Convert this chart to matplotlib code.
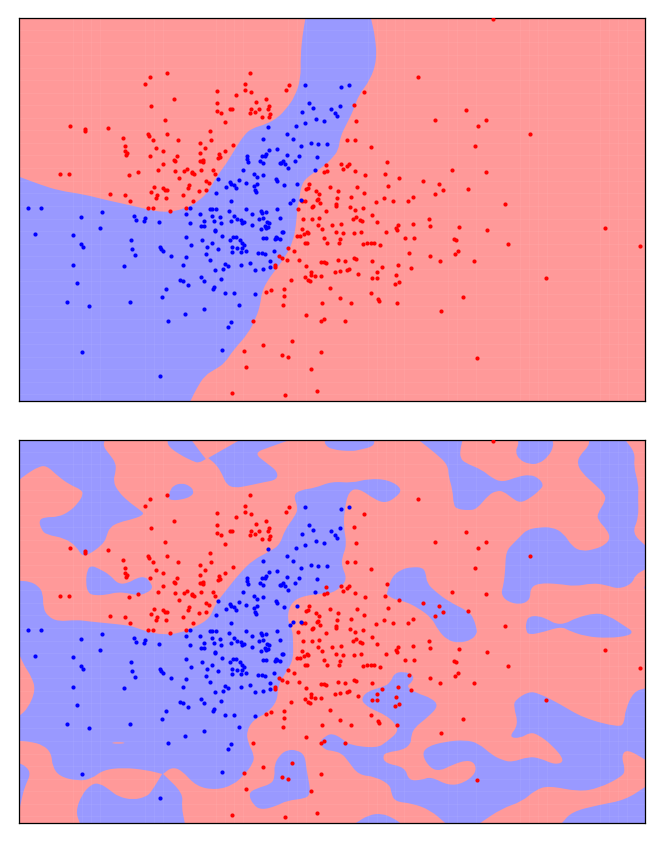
import matplotlib
matplotlib.use('Agg')
import matplotlib.pyplot as plt
from matplotlib.path import Path
from matplotlib.patches import PathPatch

# everything, units are 1/3 pixel of the top panel
red_pts = [(502,218),(451,230),(437,253),(750,218),(736,251),(736,271),(754,275),(651,273),(708,285),(868,256),
 (859,270),(523,297),(653,308),(453,317),(651,332),(664,338),(691,327),(696,327),(770,306),(798,296),(808,317),
 (806,327),(755,326),(750,339),(765,335),(778,326),(810,342),(808,350),(787,351),(495,359),(676,367),(210,378),
 (256,387),(256,392),(325,384),(370,413),(444,403),(448,408),(459,420),(502,403),(534,420),(630,393),(633,419),
 (601,428),(376,438),(468,444),(615,445),(491,452),(375,453),(381,458),(380,465),(451,467),(600,460),(532,468),
 (658,462),(655,473),(662,470),(676,453),(700,434),(522,480),(527,484),(491,491),(600,484),(607,484),(611,479),
 (610,485),(475,509),(525,514),(554,512),(561,507),(578,515),(576,519),(582,521),(603,509),(639,511),(645,521),
 (388,525),(415,517),(181,522),(208,522),(537,535),(619,542),(627,548),(567,554),(566,565),(463,560),(489,564),
 (496,569),(502,570),(330,581),(376,584),(453,575),(472,586),(470,594),(499,595),(550,585),(597,572),(620,571),
 (390,602),(580,603),(978,494),(982,514),(973,517),(928,551),(923,564),(919,567),(948,572),(958,581),(953,597),
 (950,599),(905,603),(914,604),(961,610),(991,561),(444,623),(461,623),(511,632),(558,623),(935,620),(938,618),
 (894,628),(910,655),(936,657),(957,653),(978,631),(955,675),(967,686),(905,686),(920,694),(925,698),(911,700),
 (892,707),(900,708),(973,713),(981,728),(916,729),(922,729),(865,744),(883,751),(837,766),(847,772),(862,780),
 (897,779),(963,786),(972,786),(979,789),(917,797),(827,795),(827,800),(932,815),(932,824),(945,827),(915,830),
 (924,838),(930,842),(964,828),(874,838),(990,864),(852,866),(813,869),(800,875),(853,887),(966,907),(849,914),
 (917,945),(972,957),(963,962),(759,961),(875,1023),(790,1034),(733,1053),(847,1064),(865,1070),(964,1056),
 (739,1100),(932,1106),(696,1178),(856,1184),(951,1172),
 (1480,58),(1254,230),(1092,276),(1062,314),(1398,329),(1306,360),(1069,362),(1434,377),(1459,359),(1590,401),
 (1042,419),(1065,421),(1114,441),(1426,437),(1162,487),(1023,492),(1047,492),(1041,498),(1030,506),(1066,512),
 (1096,524),(1155,521),(1197,534),(1357,510),(1458,516),(1269,542),(1318,551),(1330,569),(1405,567),(1305,581),
 (1072,561),(1014,573),(1093,578),(1164,557),(1053,590),(1012,594),(1153,594),(1240,590),(1225,603),(1179,603),
 (1128,605),(1516,611),(1007,612),(1009,619),(1051,622),(1065,630),(1090,624),
 (1117,645),(1059,656),(1069,651),(1079,659),(1087,662),(1131,665),(1287,656),(1290,678),(1377,681),(1462,690),
 (1816,683),(1023,671),(995,673),(1195,674),(1189,684),(1191,690),(1239,671),(1007,695),(1030,699),(1062,699),
 (1083,694),(1159,695),(1020,717),(1016,728),(1101,728),(1090,732),(1113,729),(1122,729),(1141,735),(1216,713),
 (1242,713),(1362,716),(1369,720),(1525,732),(1921,737),(1227,759),(1290,767),(1373,752),(1365,761),(1061,772),
 (1068,776),(1015,779),(1035,781),(1117,781),(1320,782),(1422,781),(1195,794),(1147,799),(1232,803),(1048,806),
 (1041,810),(1005,814),(1021,812),(1132,816),(1075,822),(1188,824),(1117,833),(1132,833),(1638,834),(1198,844),
 (1186,851),(1114,878),(1020,893),(1135,896),(1137,901),(1389,891),(1053,909),(1191,908),(1323,933),(1035,962),
 (1431,1074)]

blue_pts = [(914,254),(926,309),(940,323),(906,337),(994,327),(949,357),(916,368),(973,362),(887,378),(805,380),
 (861,403),(879,418),(790,418),(933,430),(954,432),(981,431),(904,437),(832,446),(808,450),(861,464),(800,463),
 (796,467),(788,468),(951,470),(897,469),(742,469),(742,477),(744,487),(782,483),(789,488),(884,484),(850,484),
 (840,488),(843,489),(857,493),(864,503),(945,509),(730,509),(763,521),(772,530),(789,524),(655,538),(830,538),
 (832,544),(718,541),(691,546),(695,552),(738,548),(853,555),(892,552),(702,556),(709,563),(680,562),(772,552),
 (763,559),(765,571),(770,576),(649,579),(694,604),(879,599),(902,599),(871,610),
 (1047,254),(1024,261),(1021,318),(1006,338),(1011,347),
 (85,623),(124,623),(244,650),(307,635),(403,648),(408,660),(436,652),(432,663),(477,665),(571,625),(559,641),
 (600,642),(631,627),(636,627),(649,627),(637,647),(662,650),(614,661),(643,663),(663,669),(571,668),(604,678),
 (612,678),(645,689),(645,692),(689,633),(703,647),(712,655),(724,658),(733,664),(727,669),(694,661),(738,627),
 (757,641),(783,633),(788,638),(800,636),(833,626),(789,654),(779,657),(802,664),(809,668),(757,673),(840,654),
 (797,676),(805,680),(800,684),(783,685),(301,682),(105,702),(221,705),(558,710),(666,708),(851,695),(847,696),
 (790,713),(798,714),(829,710),(832,712),(826,717),(842,717),(394,720),(607,720),(692,718),(699,711),(710,711),
 (722,720),(726,728),(734,735),(727,742),(711,743),(696,740),(696,754),(724,756),(738,752),(637,728),(622,741),
 (654,747),(574,734),(244,731),(249,740),(396,745),(405,764),(481,739),(484,747),(491,753),(514,767),(558,769),
 (618,762),(631,779),(776,758),(787,758),(797,760),(822,751),(812,783),(812,800),(677,790),(685,797),(723,793),
 (751,789),(549,795),(372,798),(221,795),(645,810),(669,807),(766,809),(790,806),(603,830),(612,843),(663,835),
 (540,840),(550,843),(564,854),(232,849),(499,867),(641,867),(644,860),(675,877),(703,878),(765,881),(486,890),
 (201,906),(390,905),(267,917),(612,925),(717,915),(557,941),(504,962),(694,965),(684,981),(666,1049),(248,1056),
 (481,1128)]

# top panel, one blue region on red
top_blue = [(917,54),(908,105),(902,170),(903,235),(885,290),(860,325),(835,352),(800,372),(755,385),(733,405),
 (710,440),(680,490),(650,530),(625,575),(600,600),(560,625),(490,639),(400,617),(320,600),(250,582),(180,572),
 (120,553),(59,530),(59,1202),(572,1202),(590,1165),(615,1125),(650,1105),(675,1088),(700,1050),(745,1000),
 (770,950),(782,910),(785,880),(800,845),(830,805),(860,765),(880,720),(888,680),(893,620),(898,600),(905,550),
 (930,525),(970,500),(996,475),(1016,450),(1021,410),(1041,370),(1061,330),(1076,285),(1111,240),(1131,180),
 (1126,110),(1113,54)]

# bottom panel, blue regions
low_topleft = [(59,54),(315,54),(310,73),(330,98),(348,123),(348,148),(340,178),(355,208),(385,238),(420,263),
 (435,277),(400,291),(360,300),(330,315),(320,343),(315,358),(295,378),(270,395),(247,403),(230,373),(195,348),
 (140,338),(125,323),(117,295),(135,285),(175,285),(210,268),(235,243),(250,218),(245,203),(210,188),(175,163),
 (140,130),(115,135),(85,153),(59,173)]
low_mid1 = [(503,54),(505,73),(540,98),(580,118),(597,123),(618,111),(600,88),(575,54)]
low_mid2 = [(720,54),(625,108),(650,128),(668,158),(680,188),(705,198),(745,191),(790,181),(832,173),(833,148),
 (800,123),(762,93),(810,75),(870,54)]
low_top3 = [(975,54),(975,68),(996,83),(1056,88),(1081,83),(1121,73),(1124,54)]
low_small = [(510,208),(520,191),(545,183),(570,191),(583,208),(575,223),(545,233),(515,235),(505,228)]
low_inner = [(262,443),(275,430),(300,441),(330,458),(355,486),(385,483),(410,468),(435,463),(450,478),(460,498),
 (440,513),(415,520),(385,513),(352,510),(320,518),(285,520),(265,513),(258,483)]
low_main = [(59,476),(90,478),(115,491),(130,513),(130,558),(145,583),(175,598),(230,593),(270,598),(320,603),
 (370,608),(400,613),(440,628),(490,638),(540,633),(590,613),(630,588),(645,548),(680,503),(720,453),(760,413),
 (810,388),(840,368),(855,323),(885,283),(895,258),(880,218),(905,203),(945,198),(996,178),(1056,183),(1106,170),
 (1166,173),(1209,201),(1186,228),(1156,243),(1126,233),(1076,198),(1046,208),(1034,263),(1031,313),(1041,368),
 (1026,408),(1026,433),(1041,468),(1026,493),(996,513),(975,513),(900,523),(870,548),(862,593),(878,623),(880,663),
 (880,713),(860,748),(835,788),(832,838),(800,873),(760,893),(740,928),(745,963),(763,998),(760,1023),(733,1058),
 (700,1088),(650,1103),(590,1093),(545,1043),(515,1035),(490,1055),(550,1113),(545,1153),(555,1202),(240,1202),
 (228,1168),(245,1118),(275,1085),(300,1083),(330,1103),(355,1123),(400,1133),(440,1123),(455,1108),(487,1055),
 (440,1043),(370,1036),(310,1043),(275,1070),(235,1076),(180,1063),(158,1033),(155,993),(130,968),(90,958),(59,956),
 (59,881),(85,858),(108,803),(95,763),(75,733),(59,698)]
low_corner = [(59,1023),(80,1033),(93,1055),(75,1093),(65,1133),(59,1163)]
low_ctop = [(1256,54),(1306,93),(1344,128),(1346,163),(1358,203),(1361,248),(1371,261),(1406,265),(1431,261),
 (1466,218),(1491,206),(1511,208),(1536,228),(1561,243),(1591,228),(1621,203),(1631,188),(1616,168),(1591,158),
 (1556,163),(1508,181),(1476,168),(1446,143),(1396,123),(1381,108),(1381,83),(1388,54)]
low_blob = [(1546,88),(1556,68),(1554,54),(1658,54),(1661,73),(1646,103),(1616,126),(1586,126),(1558,113)]
low_right = [(1768,54),(1766,73),(1741,98),(1731,123),(1746,153),(1786,188),(1816,218),(1816,238),(1793,273),
 (1793,293),(1821,323),(1831,348),(1816,368),(1786,381),(1746,388),(1716,373),(1691,333),(1656,315),(1616,316),
 (1581,323),(1561,343),(1541,363),(1518,388),(1516,443),(1511,488),(1503,515),(1521,538),(1561,548),(1591,533),
 (1591,498),(1616,483),(1676,485),(1726,493),(1776,483),(1816,488),(1856,501),(1896,485),(1906,458),(1937,441),
 (1937,371),(1896,333),(1916,288),(1914,223),(1916,188),(1901,133),(1906,93),(1876,54)]
low_tiny = [(1931,498),(1937,488),(1937,501)]
low_center = [(1161,513),(1176,463),(1206,441),(1236,435),(1268,436),(1278,453),(1281,483),(1306,508),(1346,538),
 (1406,568),(1421,588),(1431,623),(1431,633),(1416,653),(1376,663),(1341,653),(1314,623),(1296,588),(1256,558),
 (1216,538),(1186,533),(1161,518)]
low_lobe = [(1578,603),(1586,583),(1616,581),(1646,593),(1666,605),(1696,605),(1726,588),(1786,572),(1826,580),
 (1876,613),(1899,628),(1886,641),(1826,648),(1756,643),(1701,623),(1691,616),(1666,618),(1636,628),(1586,639),
 (1578,623)]
low_large = [(996,933),(1026,948),(1046,968),(1131,978),(1161,958),(1196,928),(1186,903),(1156,878),(1121,863),
 (1096,848),(1084,831),(1101,808),(1146,795),(1171,783),(1183,753),(1211,748),(1241,758),(1239,778),(1218,793),
 (1251,813),(1296,828),(1316,851),(1286,883),(1241,918),(1233,948),(1233,963),(1211,983),(1161,990),(1148,1001),
 (1156,1023),(1216,1035),(1226,1075),(1266,1073),(1293,1063),(1346,1090),(1391,1083),(1428,1053),(1426,1023),
 (1401,1013),(1356,1028),(1321,1046),(1291,1038),(1266,998),(1281,973),(1336,958),(1396,953),(1436,963),(1476,998),
 (1506,1013),(1536,1020),(1586,1003),(1621,1008),(1666,1028),(1696,1016),(1656,968),(1616,938),(1591,930),(1561,948),
 (1526,945),(1556,908),(1541,853),(1546,833),(1586,808),(1616,813),(1676,843),(1751,888),(1856,915),(1873,903),
 (1876,863),(1901,808),(1937,798),(1937,1013),(1881,980),(1864,1001),(1876,1043),(1866,1063),(1796,1098),(1736,1108),
 (1646,1090),(1606,1103),(1566,1138),(1506,1158),(1441,1202),(1336,1202),(1291,1163),(1236,1143),(1186,1138),
 (1174,1113),(1171,1088),(1126,1063),(1076,1058),(1046,1018),(1026,993),(996,985),(975,983),(958,960),(975,943)]
low_brcorner = [(1686,1202),(1716,1168),(1796,1148),(1876,1133),(1937,1093),(1937,1202)]
low_bottom = [(1068,1202),(1106,1178),(1146,1173),(1181,1188),(1201,1202)]
low_inblob = [(823,1028),(840,998),(862,983),(890,983),(915,998),(920,1043),(930,1093),(930,1113),(920,1128),
 (860,1135),(830,1151),(785,1163),(760,1148),(745,1113),(770,1098),(815,1085),(825,1063)]
low_sliver = [(330,962),(355,959),(382,962),(355,965)]

low_regions = [low_topleft, low_mid1, low_mid2, low_top3, low_small, low_inner, low_main, low_corner, low_ctop,
               low_blob, low_right, low_tiny, low_center, low_lobe, low_large, low_brcorner, low_bottom, low_inblob]

# corners that stay pointed where two red lobes nearly touch
sharp_pts = [(490,1055),(487,1055),(625,108),(618,111)]

# faint lighter seams of the filled grid
seam_x = [220,247,274,300,435,462,490,650,677,704,731,865,892,919,1105,1132,1159,1186,1213,1345,1372,1427,
          1560,1588,1615,1642,1800,1828,1855,1882]
seam_y = [90,127,165,203,240,278,316,353,391,429,466,504,542,579,617,655,692,730,768,805,843,881,918,956,994,
          1031,1069,1107,1144,1182]

RED_BG = '#ff9999'
BLUE_BG = '#9999ff'


def region_path(reg):
    # quadratic curves between the read points, frame and sharp points get doubled so the curve passes through them
    pts = []
    for p in reg:
        pts.append(p)
        if p[0] <= 59 or p[0] >= 1936 or p[1] <= 54 or p[1] >= 1202 or p in sharp_pts:
            pts.append(p)
    mid = lambda a, b: ((a[0] + b[0]) / 2, (a[1] + b[1]) / 2)
    verts = [mid(pts[-1], pts[0])]
    codes = [Path.MOVETO]
    for i, p in enumerate(pts):
        verts += [p, mid(p, pts[(i + 1) % len(pts)])]
        codes += [Path.CURVE3, Path.CURVE3]
    return Path(verts, codes)


def draw_panel(ax, regions, holes=()):
    ax.set_facecolor(RED_BG)
    for reg in regions:
        ax.add_patch(PathPatch(region_path(reg), fc=BLUE_BG, ec='none', lw=0, zorder=1))
    for reg in holes:
        ax.add_patch(PathPatch(region_path(reg), fc=RED_BG, ec='none', lw=0, zorder=2))
    for x in seam_x:
        ax.axvline(x, color='white', lw=0.72, alpha=0.06, zorder=2.5)
    for y in seam_y:
        ax.axhline(y, color='white', lw=0.72, alpha=0.05, zorder=2.5)
    ax.scatter(*zip(*red_pts), s=9, c='red', lw=0, zorder=3)
    ax.scatter(*zip(*blue_pts), s=9, c='blue', lw=0, zorder=3)
    ax.set_xlim(59, 1936)
    ax.set_ylim(1202, 54)
    ax.set_xticks([])
    ax.set_yticks([])
    for sp in ax.spines.values():
        sp.set_linewidth(0.9)


W, H = 664, 843
fig = plt.figure(figsize=(W / 100, H / 100), dpi=100)
ax1 = fig.add_axes([19.4 / W, 1 - 401 / H, 625.9 / W, 383 / H])
ax2 = fig.add_axes([19.4 / W, 1 - 823 / H, 625.9 / W, 383 / H])
draw_panel(ax1, [top_blue])
draw_panel(ax2, low_regions, [low_sliver])
fig.savefig('out.png', dpi=100)
